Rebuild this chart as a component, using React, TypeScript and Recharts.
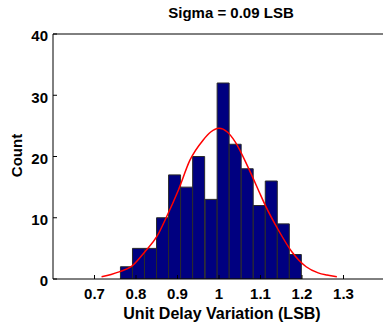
import { ComposedChart, Bar, Line, XAxis, YAxis } from 'recharts'

// histogram bins (centres) and counts
const binCenters = [0.777, 0.806, 0.835, 0.864, 0.893, 0.922, 0.951, 0.981, 1.01, 1.039, 1.068, 1.097, 1.126, 1.155, 1.184]
const counts = [2, 5, 5, 10, 17, 15, 20, 13, 32, 22, 18, 12, 16, 9, 4]

// fitted normal curve
const fitX = [0.717, 0.74, 0.761, 0.79, 0.822, 0.85, 0.874, 0.902, 0.93, 0.962, 0.98, 1.0, 1.02, 1.039, 1.071, 1.095, 1.111, 1.143, 1.175, 1.21, 1.239, 1.26, 1.284]
const fitY = [0.38, 0.75, 1.2, 2.1, 4.5, 6.9, 10.2, 14.5, 19.4, 22.7, 24.0, 24.6, 24.0, 22.4, 18.1, 14.5, 12.1, 8.0, 4.5, 2.0, 1.0, 0.65, 0.38]

const xTicks = [0.7, 0.8, 0.9, 1, 1.1, 1.2, 1.3]
const yTicks = [0, 10, 20, 30, 40]

const FONT = '"Liberation Sans", Arial, sans-serif'
const tickStyle = { fill: '#000', fontSize: 15, fontWeight: 'bold', fontFamily: FONT }

export default function App() {
  const bars = binCenters.map((x, i) => ({ x, count: counts[i] }))
  const fit = fitX.map((x, i) => ({ x, y: fitY[i] }))

  return (
    <div style={{ position: 'fixed', left: 0, top: 0, width: 383, height: 326, overflow: 'hidden', background: '#fff' }}>
      <ComposedChart width={390} height={326} data={bars} margin={{ top: 33, right: 4, bottom: 7, left: 0 }}>
        <XAxis
          dataKey="x"
          type="number"
          domain={[0.6, 1.4]}
          allowDataOverflow
          ticks={xTicks}
          tickSize={-4}
          tickMargin={13}
          height={40}
          axisLine={{ stroke: '#000' }}
          tickLine={{ stroke: '#000' }}
          tick={tickStyle}
          label={{ value: 'Unit Delay Variation (LSB)', position: 'insideBottom', offset: 0, dx: 3, style: { ...tickStyle, fontSize: 16, textAnchor: 'middle' } }}
        />
        {/* top frame edge; the fitted curve is plotted on it (same domain) */}
        <XAxis
          xAxisId="top"
          orientation="top"
          dataKey="x"
          type="number"
          domain={[0.6, 1.4]}
          allowDataOverflow
          ticks={xTicks}
          tickSize={-4}
          height={1}
          tick={false}
          axisLine={{ stroke: '#000' }}
          tickLine={{ stroke: '#000' }}
          label={{ value: 'Sigma = 0.09 LSB', position: 'top', offset: 15, dx: 12, style: { ...tickStyle, textAnchor: 'middle' } }}
        />
        <YAxis
          type="number"
          domain={[0, 40]}
          allowDataOverflow
          ticks={yTicks}
          tickSize={-4}
          tickMargin={9}
          width={53}
          axisLine={{ stroke: '#000' }}
          tickLine={{ stroke: '#000' }}
          tick={{ ...tickStyle, dy: 2 }}
          label={{
            content: ({ viewBox }: any) => {
              const cy = viewBox.y + viewBox.height / 2 - 1
              return (
                <text x={22} y={cy} transform={`rotate(-90, 22, ${cy})`} textAnchor="middle" style={tickStyle}>
                  Count
                </text>
              )
            },
          }}
        />
        <YAxis
          yAxisId="right"
          orientation="right"
          type="number"
          domain={[0, 40]}
          allowDataOverflow
          ticks={yTicks}
          tickSize={-4}
          width={1}
          tick={false}
          axisLine={{ stroke: '#000' }}
          tickLine={{ stroke: '#000' }}
        />
        <Bar dataKey="count" barSize={12} fill="#000080" stroke="#2a2a2a" strokeWidth={1} isAnimationActive={false} />
        <Line data={fit} xAxisId="top" yAxisId="right" dataKey="y" type="monotone" stroke="#ff0000" strokeWidth={1.5} dot={false} isAnimationActive={false} />
      </ComposedChart>
    </div>
  )
}
